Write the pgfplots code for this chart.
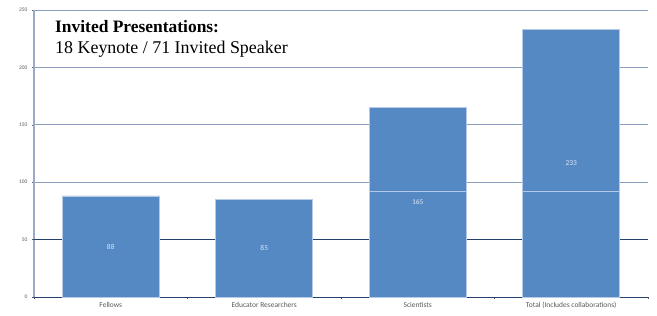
\documentclass[border=0pt]{standalone}
\usepackage{pgfplots}
\pgfplotsset{compat=1.18}
\usepackage{fontspec}
\setmainfont{Carlito}
\newfontfamily\titlefont{Liberation Serif}
\definecolor{barblue}{HTML}{5589C3}
\definecolor{baredge}{HTML}{B4CAE6}
\definecolor{gridc}{HTML}{8A9EBB}
\definecolor{navy}{HTML}{24406E}
\definecolor{yaxisc}{HTML}{9AAACA}
\definecolor{tickc}{HTML}{595959}
\definecolor{lblc}{HTML}{DCE6F2}
\begin{document}
\begin{tikzpicture}
\useasboundingbox (-34bp,-19bp) rectangle (623bp,297bp);
\begin{axis}[
  scale only axis, width=614bp, height=287bp,
  xmin=-0.5, xmax=3.5, ymin=0, ymax=250,
  axis x line*=bottom, axis y line*=left,
  x axis line style={navy, line width=0.8pt, -},
  y axis line style={yaxisc, line width=1.2pt, -},
  xtick={0,1,2,3},
  xticklabels={Fellows, Educator Researchers, Scientists, Total (Includes collaborations)},
  minor xtick={-0.5,0.5,1.5,2.5,3.5},
  ytick={0,50,100,150,200,250},
  ymajorgrids,
  grid style={gridc, line width=0.7pt},
  extra y ticks={50},
  extra y tick style={grid style={navy, line width=0.8pt}, yticklabels={}},
  major x tick style={draw=none},
  minor x tick style={tickc, line width=0.4pt},
  minor tick length=2bp,
  major tick length=2bp,
  ytick style={tickc, line width=0.4pt},
  tick align=outside,
  /pgf/number format/assume math mode=true,
  ticklabel style={text=tickc},
  xticklabel style={font=\fontsize{7.5}{8.5}\selectfont, yshift=0bp},
  yticklabel style={font=\fontsize{5.5}{6.5}\selectfont, xshift=-1bp},
  clip=false,
]
\addplot[ybar, bar width=0.632, bar shift=0pt, fill=barblue, draw=baredge, line width=0.6pt]
  coordinates {(0,88) (1,85) (2,165) (3,233)};
\addplot[ybar, bar width=0.632, bar shift=0pt, fill=barblue, draw=baredge, line width=0.6pt]
  coordinates {(2,92.3) (3,92.3)};
\addplot[only marks, mark=none, point meta=explicit symbolic,
  nodes near coords, every node near coord/.append style={anchor=center, font=\fontsize{7.5}{8.5}\selectfont, text=lblc}]
  coordinates {(0,44)[88] (1,42.5)[85] (2,82.5)[165] (3,116.5)[233]};
\end{axis}
\node[anchor=base west, inner sep=0pt, font=\titlefont\fontsize{17.5}{20}\selectfont\bfseries] at (21bp,264.3bp)
  {Invited Presentations:};
\node[anchor=base west, inner sep=0pt, font=\titlefont\fontsize{18}{20}\selectfont] at (21bp,243.7bp)
  {18 Keynote / 71 Invited Speaker};
\end{tikzpicture}
\end{document}
